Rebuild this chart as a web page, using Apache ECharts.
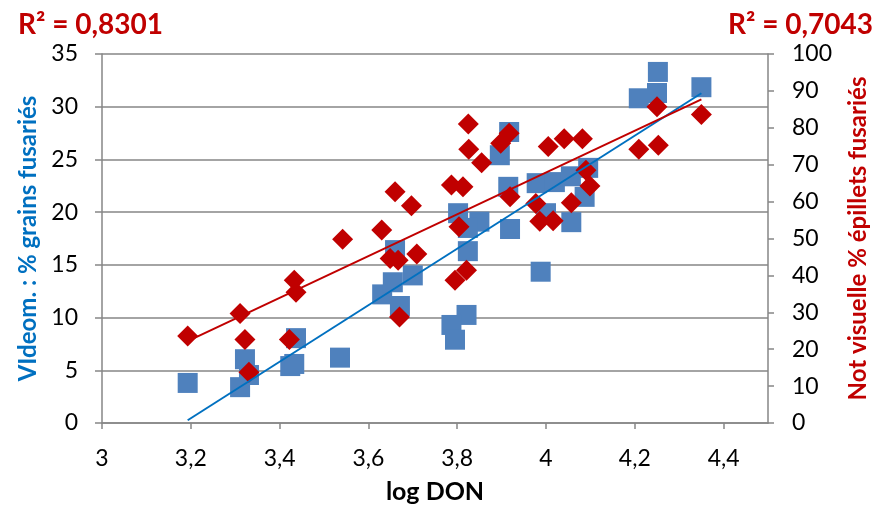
<!DOCTYPE html>
<html>
<head>
<meta charset="utf-8">
<script src="https://cdn.jsdelivr.net/npm/echarts@6/dist/echarts.min.js"></script>
<style>
  html, body { margin: 0; padding: 0; background: #fff; }
  #chart { width: 885px; height: 507px; }
</style>
</head>
<body>
<div id="chart"></div>
<script>
// log DON vs % grains fusariés (squares, left axis)
const grainsX = [3.193, 3.311, 3.322, 3.331, 3.424, 3.433, 3.437, 3.536, 3.631, 3.655,
  3.660, 3.700, 3.671, 3.802, 3.850, 3.824, 3.824, 3.821, 3.787, 3.795,
  3.896, 3.917, 3.915, 3.919, 3.988, 3.979, 4.020, 4.056, 4.095, 4.087,
  4.057, 4.000, 4.209, 4.250, 4.252, 4.350]
const grainsY = [3.8, 3.4, 6.05, 4.55, 5.4, 5.6, 8.05, 6.2, 12.2, 13.35,
  16.4, 14.0, 11.1, 19.9, 19.1, 18.5, 16.3, 10.25, 9.3, 7.9,
  25.4, 27.6, 22.4, 18.4, 14.35, 22.75, 22.85, 23.4, 24.2, 21.45,
  19.05, 19.9, 30.8, 31.3, 33.3, 31.85]

// log DON vs note visuelle % épillets fusariés (diamonds, right axis)
const epilletsX = [3.193, 3.311, 3.322, 3.331, 3.433, 3.437, 3.422, 3.542, 3.630, 3.660,
  3.697, 3.649, 3.667, 3.709, 3.670, 3.787, 3.813, 3.804, 3.795, 3.821,
  3.825, 3.826, 3.855, 3.898, 3.917, 3.919, 3.977, 3.986, 4.016, 4.005,
  4.041, 4.082, 4.057, 4.090, 4.099, 4.209, 4.253, 4.250, 4.350]
const epilletsY = [23.6, 29.7, 22.6, 13.75, 38.7, 35.4, 22.6, 49.8, 52.3, 62.7,
  58.9, 44.6, 44.1, 45.8, 28.7, 64.5, 64.0, 53.2, 38.7, 41.4,
  81.0, 74.2, 70.5, 75.8, 78.5, 61.3, 59.5, 54.7, 54.8, 74.9,
  77.0, 77.0, 59.7, 68.5, 64.2, 74.2, 75.3, 85.7, 83.6]

// linear trend lines (end points)
const trendX = [3.193, 4.350]
const grainsTrend = [0.26, 31.28]
const epilletsTrend = [22.2, 87.7]

const r2Grains = 'R² = 0,8301'
const r2Epillets = 'R² = 0,7043'

const FONT = 'Lato'
const GRID_GREY = '#868686'
const BLUE = '#4F81BD'
const RED = '#C00000'

const zip = (xs, ys) => xs.map((x, i) => [x, ys[i]])
const comma = v => String(+v.toFixed(2)).replace('.', ',')

const myChart = echarts.init(document.getElementById('chart'))
myChart.setOption({
  animation: false,
  backgroundColor: '#fff',
  textStyle: { fontFamily: FONT },
  grid: { left: 102, right: 117, top: 54, bottom: 84, containLabel: false, outerBoundsMode: 'none' },
  graphic: [
    {
      type: 'text', left: 18, top: 11,
      style: { text: r2Grains, fill: RED, font: 'bold 28px ' + FONT }
    },
    {
      type: 'text', right: 12, top: 11,
      style: { text: r2Epillets, fill: RED, font: 'bold 28px ' + FONT }
    }
  ],
  xAxis: {
    type: 'value',
    min: 3,
    max: 4.5,
    interval: 0.2,
    name: 'log DON',
    nameLocation: 'middle',
    nameGap: 56,
    nameTextStyle: { fontSize: 25, fontWeight: 'bold', color: '#000', fontFamily: FONT },
    axisLine: { lineStyle: { color: GRID_GREY, width: 1.5 } },
    axisTick: { show: true, length: 6, lineStyle: { color: GRID_GREY, width: 1.5 } },
    axisLabel: { showMaxLabel: false, margin: 24, fontSize: 23, color: '#000', formatter: comma },
    splitLine: { show: false }
  },
  yAxis: [
    {
      type: 'value',
      min: 0,
      max: 35,
      interval: 5,
      name: 'VIdeom. : % grains fusariés',
      nameLocation: 'middle',
      nameRotate: 90,
      nameGap: 54,
      nameTextStyle: { fontSize: 24, fontWeight: 'bold', color: '#0070C0', fontFamily: FONT },
      axisLine: { show: true, lineStyle: { color: GRID_GREY, width: 1.5 } },
      axisTick: { show: true, length: 7, lineStyle: { color: GRID_GREY, width: 1.5 } },
      axisLabel: { margin: 24, fontSize: 23, color: '#000' },
      splitLine: { show: true, lineStyle: { color: GRID_GREY, width: 1.5 } }
    },
    {
      type: 'value',
      min: 0,
      max: 100,
      interval: 10,
      position: 'right',
      name: 'Not visuelle % épillets fusariés',
      nameLocation: 'middle',
      nameRotate: 90,
      nameGap: 78,
      nameTextStyle: { fontSize: 24, fontWeight: 'bold', color: RED, fontFamily: FONT },
      axisLine: { show: true, lineStyle: { color: GRID_GREY, width: 1.5 } },
      axisTick: { show: true, length: 6, lineStyle: { color: GRID_GREY, width: 1.5 } },
      axisLabel: { margin: 24, fontSize: 23, color: '#000' },
      splitLine: { show: false }
    }
  ],
  series: [
    {
      name: 'grains',
      type: 'scatter',
      yAxisIndex: 0,
      symbol: 'rect',
      symbolSize: 20,
      itemStyle: { color: BLUE, opacity: 1 },
      data: zip(grainsX, grainsY),
      z: 2
    },
    {
      name: 'epillets',
      type: 'scatter',
      yAxisIndex: 1,
      symbol: 'diamond',
      symbolSize: 21,
      itemStyle: { color: RED, opacity: 1 },
      data: zip(epilletsX, epilletsY),
      z: 3
    },
    {
      name: 'grains trend',
      type: 'line',
      yAxisIndex: 0,
      showSymbol: false,
      lineStyle: { color: '#0070C0', width: 2 },
      data: zip(trendX, grainsTrend),
      z: 4
    },
    {
      name: 'epillets trend',
      type: 'line',
      yAxisIndex: 1,
      showSymbol: false,
      lineStyle: { color: RED, width: 2 },
      data: zip(trendX, epilletsTrend),
      z: 4
    }
  ]
})
</script>
</body>
</html>
